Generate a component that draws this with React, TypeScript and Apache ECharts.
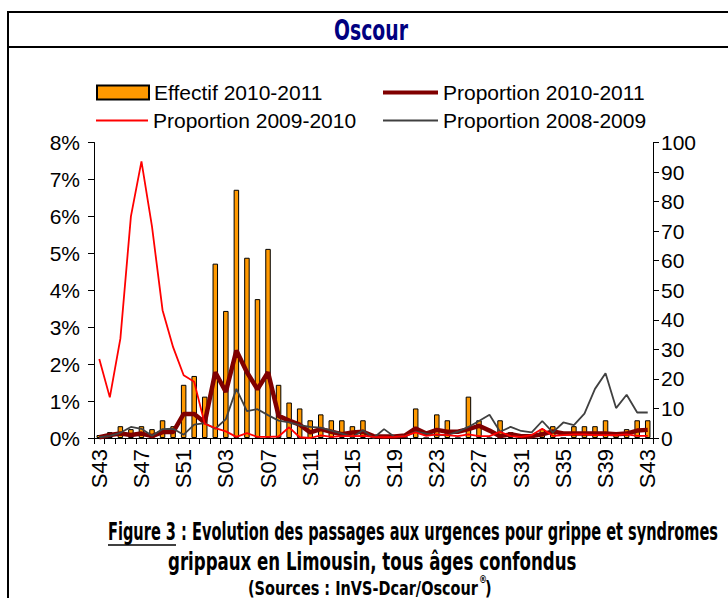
import React, { useEffect, useRef } from 'react';
import * as echarts from 'echarts';

const weeks = ['S43','S44','S45','S46','S47','S48','S49','S50','S51','S52','S01','S02','S03','S04','S05','S06','S07','S08','S09','S10','S11','S12','S13','S14','S15','S16','S17','S18','S19','S20','S21','S22','S23','S24','S25','S26','S27','S28','S29','S30','S31','S32','S33','S34','S35','S36','S37','S38','S39','S40','S41','S42','S43'];

const effectif1011 = [1,2,4,3,4,3,6,4,18,21,14,59,43,84,61,47,64,18,12,10,6,8,6,6,4,6,0,0,1,0,10,0,8,6,0,14,6,0,6,2,0,0,3,4,0,4,4,4,6,2,3,6,6];

const prop1011 = [0.02,0.08,0.12,0.08,0.12,0.05,0.16,0.16,0.65,0.65,0.42,1.78,1.25,2.37,1.78,1.32,1.78,0.6,0.47,0.36,0.15,0.24,0.17,0.1,0.15,0.17,0.05,0.04,0.04,0.07,0.26,0.12,0.22,0.17,0.17,0.24,0.33,0.2,0.05,0.1,0.05,0.05,0.1,0.18,0.12,0.12,0.12,0.12,0.12,0.1,0.12,0.2,0.22];

const prop0910 = [2.14,1.1,2.69,6.0,7.49,5.72,3.46,2.46,1.7,1.52,0.38,0.27,0.18,0.03,0.13,0.03,0.03,0.04,0.29,0.02,0.0,0.07,0.03,0.05,0.05,0.06,0.03,0.02,0.03,0.05,0.15,0.06,0.1,0.08,0.05,0.1,0.05,0.05,0.17,0.05,0.03,0.08,0.25,0.06,0.08,0.1,0.1,0.08,0.08,0.08,0.1,0.06,0.06];

const prop0809 = [0.02,0.06,0.14,0.3,0.25,0.06,0.24,0.25,0.09,0.36,0.4,0.25,0.51,1.33,0.73,0.78,0.62,0.47,0.42,0.35,0.3,0.28,0.2,0.12,0.03,0.21,0.0,0.24,0.03,0.05,0.17,0.12,0.08,0.08,0.17,0.3,0.46,0.63,0.17,0.3,0.19,0.15,0.46,0.15,0.42,0.35,0.66,1.33,1.75,0.81,1.17,0.69,0.69];

const leftTicks = { min: 0, max: 8, interval: 1 };
const rightTicks = { min: 0, max: 100, interval: 10 };

const titleText = 'Oscour';
const captionFig = 'Figure 3';
const captionRest = ' : Evolution des passages aux urgences pour grippe et syndromes';
const captionLine2 = 'grippaux en Limousin, tous âges confondus';
const captionLine3 = '(Sources : InVS-Dcar/Oscour';

const SANS = '"Liberation Sans", Arial, sans-serif';
const HEAVY = '"DejaVu Sans", "Liberation Sans", sans-serif';

function measure(text: string, font: string): number {
  const c = document.createElement('canvas');
  const ctx = c.getContext('2d');
  if (!ctx) return text.length * 10;
  ctx.font = font;
  return ctx.measureText(text).width;
}

export default function App() {
  const ref = useRef<HTMLDivElement>(null);
  useEffect(() => {
    if (!ref.current) return;
    const chart = echarts.init(ref.current, null, { renderer: 'svg' });

    const fTitle = `bold 29px ${HEAVY}`;
    const fCap = `bold 24px ${HEAVY}`;
    const fSrc = `bold 19px ${HEAVY}`;

    const sTitle = 74 / measure(titleText, fTitle);
    const wFig = measure(captionFig, fCap);
    const wRest = measure(captionRest, fCap);
    const s1 = 610 / (wFig + wRest);
    const s2 = 409 / measure(captionLine2, fCap);
    const s3 = 230 / measure(captionLine3, fSrc);

    const legendBase = {
      orient: 'horizontal',
      itemGap: 0,
      padding: 0,
      textStyle: { fontSize: 21, color: '#000', fontFamily: SANS },
      selectedMode: false,
      icon: 'rect',
    };
    chart.setOption({
      animation: false,
      backgroundColor: '#fff',
      grid: { left: 94, right: 75, top: 142.5, bottom: 160, containLabel: false },
      legend: [
        { ...legendBase, data: ['Effectif 2010-2011'], left: 96, top: 82, itemWidth: 52, itemHeight: 14 },
        { ...legendBase, data: ['Proportion 2010-2011'], left: 383, top: 82, itemWidth: 55, itemHeight: 4 },
        { ...legendBase, data: ['Proportion 2009-2010'], left: 96, top: 110, itemWidth: 52, itemHeight: 2 },
        { ...legendBase, data: ['Proportion 2008-2009'], left: 383, top: 110, itemWidth: 55, itemHeight: 2 },
      ],
      xAxis: {
        type: 'category',
        data: weeks,
        boundaryGap: true,
        axisLine: { lineStyle: { color: '#000', width: 1 } },
        axisTick: { show: true, interval: 0, length: 6, lineStyle: { color: '#000' } },
        axisLabel: { interval: 3, rotate: 90, fontSize: 22, color: '#000', fontFamily: SANS, margin: 11 },
        splitLine: { show: false },
      },
      yAxis: [
        {
          type: 'value', position: 'left', ...leftTicks,
          axisLine: { show: true, lineStyle: { color: '#000' } },
          axisTick: { show: true, length: 6, lineStyle: { color: '#000' } },
          axisLabel: { formatter: '{value}%', fontSize: 21, color: '#000', fontFamily: SANS, margin: 14 },
          splitLine: { show: false },
        },
        {
          type: 'value', position: 'right', ...rightTicks,
          axisLine: { show: true, lineStyle: { color: '#000' } },
          axisTick: { show: true, length: 6, lineStyle: { color: '#000' } },
          axisLabel: { fontSize: 21, color: '#000', fontFamily: SANS, margin: 8 },
          splitLine: { show: false },
        },
      ],
      series: [
        {
          name: 'Effectif 2010-2011', type: 'bar', yAxisIndex: 1, data: effectif1011, barWidth: 5.5,
          itemStyle: { color: '#FF9900', borderColor: '#000', borderWidth: 1 },
        },
        {
          name: 'Proportion 2010-2011', type: 'line', yAxisIndex: 0, data: prop1011, symbol: 'none',
          lineStyle: { color: '#800000', width: 4.5 }, itemStyle: { color: '#800000' },
        },
        {
          name: 'Proportion 2008-2009', type: 'line', yAxisIndex: 0, data: prop0809, symbol: 'none',
          lineStyle: { color: '#404040', width: 1.8 }, itemStyle: { color: '#404040' },
        },
        {
          name: 'Proportion 2009-2010', type: 'line', yAxisIndex: 0, data: prop0910, symbol: 'none',
          lineStyle: { color: '#FF0000', width: 1.8 }, itemStyle: { color: '#FF0000' },
        },
      ],
      graphic: [
        { type: 'rect', shape: { x: 8, y: 12, width: 760, height: 620 }, style: { fill: 'none', stroke: '#000', lineWidth: 2 }, silent: true },
        { type: 'line', shape: { x1: 8, y1: 47, x2: 728, y2: 47 }, style: { stroke: '#000', lineWidth: 2 }, silent: true },
        { type: 'text', x: 371 - 37, y: 30, scaleX: sTitle, style: { text: titleText, fill: '#000080', font: fTitle, align: 'left', verticalAlign: 'middle' } },
        { type: 'text', x: 108, y: 532, scaleX: s1, style: { text: captionFig, fill: '#000', font: fCap, align: 'left', verticalAlign: 'middle' } },
        { type: 'line', shape: { x1: 108, y1: 545, x2: 108 + wFig * s1, y2: 545 }, style: { stroke: '#000', lineWidth: 1.5 } },
        { type: 'text', x: 108 + wFig * s1, y: 532, scaleX: s1, style: { text: captionRest, fill: '#000', font: fCap, align: 'left', verticalAlign: 'middle' } },
        { type: 'text', x: 168, y: 562, scaleX: s2, style: { text: captionLine2, fill: '#000', font: fCap, align: 'left', verticalAlign: 'middle' } },
        { type: 'text', x: 248, y: 588, scaleX: s3, style: { text: captionLine3, fill: '#000', font: fSrc, align: 'left', verticalAlign: 'middle' } },
        { type: 'text', x: 479, y: 580, scaleX: 0.8, style: { text: '®', fill: '#000', font: `bold 10px ${HEAVY}`, align: 'left', verticalAlign: 'middle' } },
        { type: 'text', x: 485, y: 588, scaleX: s3, style: { text: ')', fill: '#000', font: fSrc, align: 'left', verticalAlign: 'middle' } },
      ],
    });
    return () => chart.dispose();
  }, []);
  return <div ref={ref} style={{ position: 'fixed', left: 0, top: 0, width: 728, height: 598 }} />;
}
